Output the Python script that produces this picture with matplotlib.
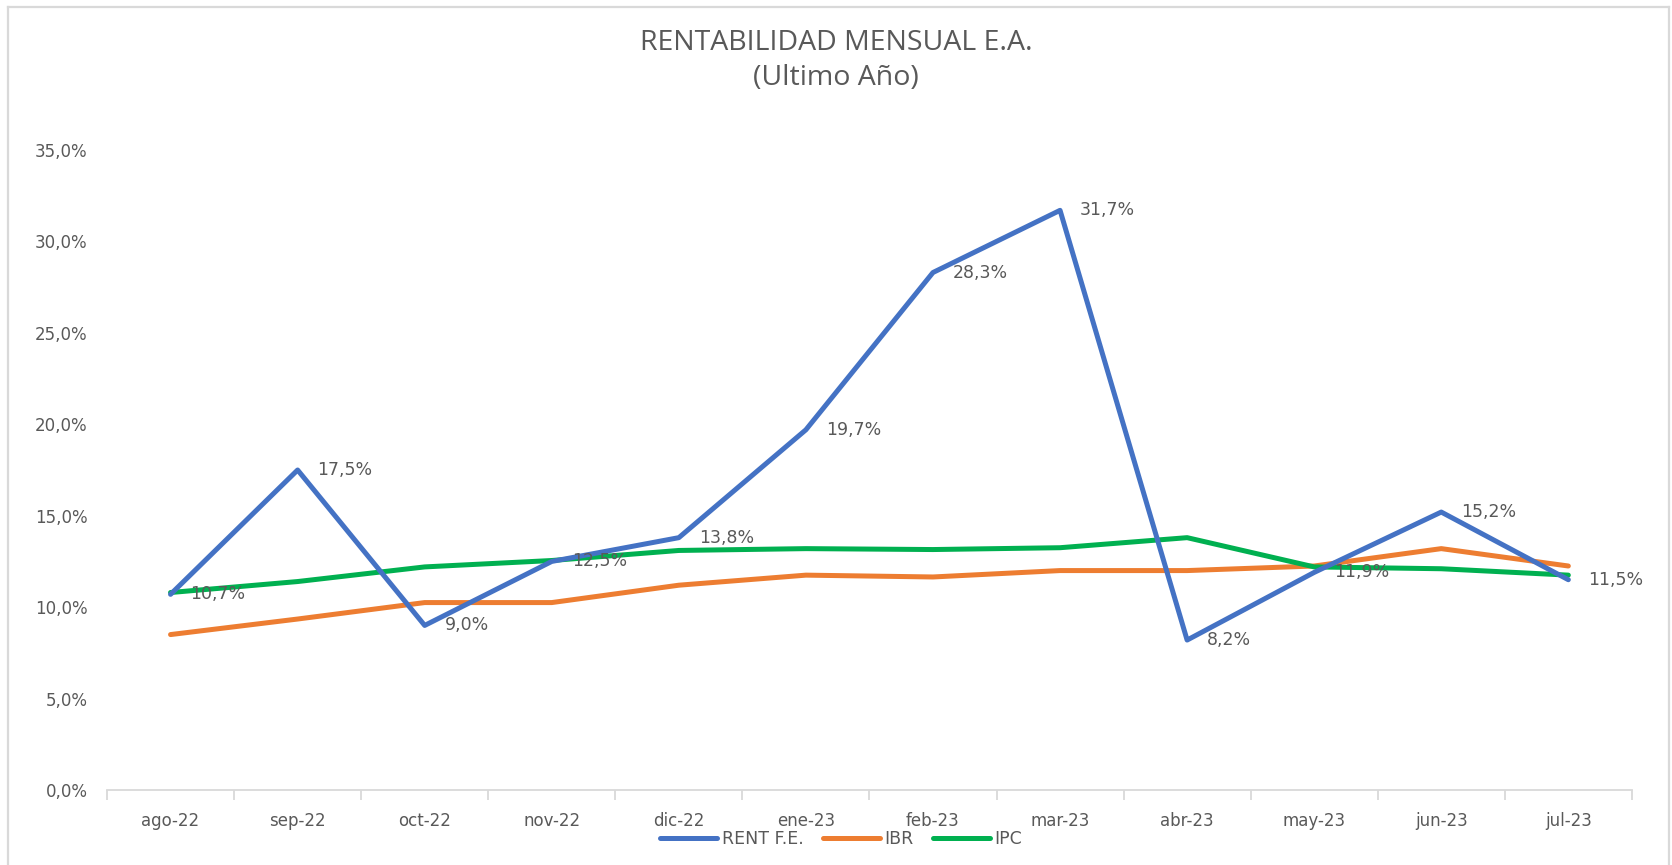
import numpy as np
import matplotlib.pyplot as plt
from matplotlib.ticker import FuncFormatter, FixedLocator

# data
months = ['ago-22', 'sep-22', 'oct-22', 'nov-22', 'dic-22', 'ene-23',
          'feb-23', 'mar-23', 'abr-23', 'may-23', 'jun-23', 'jul-23']
rent_fe = [10.7, 17.5, 9.0, 12.5, 13.8, 19.7, 28.3, 31.7, 8.2, 11.9, 15.2, 11.5]
ibr = [8.5, 9.35, 10.25, 10.25, 11.2, 11.75, 11.65, 12.0, 12.0, 12.25, 13.2, 12.25]
ipc = [10.8, 11.4, 12.2, 12.55, 13.1, 13.2, 13.15, 13.25, 13.8, 12.2, 12.1, 11.75]

blue = '#4472C4'
orange = '#ED7D31'
green = '#00B050'
gray_txt = '#595959'
gray_line = '#D9D9D9'

fig = plt.figure(figsize=(16.72, 8.65), dpi=100)
ax = fig.add_axes([0.064, 0.0867, 0.912, 0.7399])

x = np.arange(len(months))
ax.plot(x, rent_fe, color=blue, lw=3.6, label='RENT F.E.', solid_capstyle='round', zorder=3)
ax.plot(x, ibr, color=orange, lw=3.6, label='IBR', solid_capstyle='round', zorder=2)
ax.plot(x, ipc, color=green, lw=3.6, label='IPC', solid_capstyle='round', zorder=2)

# data labels for the fund series
for xi, v in zip(x, rent_fe):
    ax.annotate(f'{v:.1f}%'.replace('.', ','), (xi, v), xytext=(20, 0),
                textcoords='offset pixels', ha='left', va='center',
                fontsize=12.5, color=gray_txt, family='DejaVu Sans', zorder=4)

ax.set_xlim(-0.5, len(months) - 0.5)
ax.set_ylim(0, 35)
ax.set_yticks(np.arange(0, 36, 5))
ax.yaxis.set_major_formatter(FuncFormatter(lambda v, p: f'{v:.1f}%'.replace('.', ',')))
ax.set_xticks(x)
ax.set_xticklabels(months)
ax.xaxis.set_minor_locator(FixedLocator(np.arange(-0.5, len(months), 1)))

for s in ['top', 'right', 'left']:
    ax.spines[s].set_visible(False)
ax.spines['bottom'].set_color(gray_line)
ax.spines['bottom'].set_linewidth(1.3)

ax.tick_params(axis='y', length=0, pad=14, labelsize=12, labelcolor=gray_txt)
ax.tick_params(axis='x', which='major', length=0, pad=16, labelsize=12, labelcolor=gray_txt)
ax.tick_params(axis='x', which='minor', length=7, width=1.3, color=gray_line)

fig.text(0.5, 0.950, 'RENTABILIDAD MENSUAL E.A.', ha='center', va='center',
         fontsize=20.5, color=gray_txt, family='Open Sans')
fig.text(0.5, 0.910, '(Ultimo Año)', ha='center', va='center',
         fontsize=20.5, color=gray_txt, family='Open Sans')

leg = fig.legend(loc='center', bbox_to_anchor=(0.503, 0.030), ncol=3, frameon=False,
                 fontsize=12.5, handlelength=3.3, handletextpad=0.25, columnspacing=1.1)
for t in leg.get_texts():
    t.set_color(gray_txt)

# light chart border (no bottom edge visible)
fig.add_artist(plt.Line2D([0.0048, 0.0048], [0, 0.992], transform=fig.transFigure,
                          color=gray_line, lw=1.6))
fig.add_artist(plt.Line2D([0.9985, 0.9985], [0, 0.992], transform=fig.transFigure,
                          color=gray_line, lw=1.6))
fig.add_artist(plt.Line2D([0.0048, 0.9985], [0.992, 0.992], transform=fig.transFigure,
                          color=gray_line, lw=1.6))

fig.savefig('out.png', dpi=100)
